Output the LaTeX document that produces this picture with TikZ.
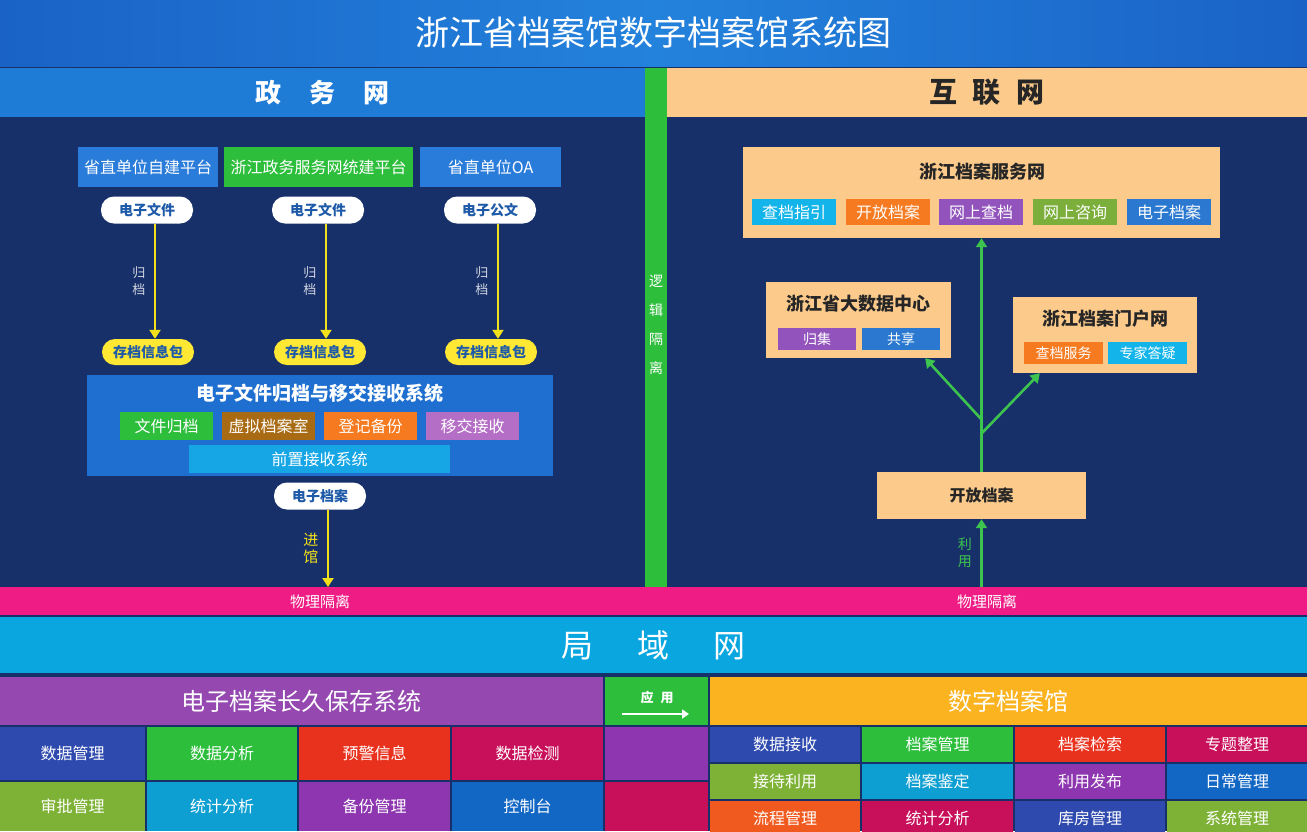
\documentclass[tikz,border=0pt]{standalone}
\usepackage{fontspec}
\setmainfont{Noto Sans CJK SC}
\usetikzlibrary{positioning,arrows.meta}

\definecolor{navy}{HTML}{18306A}
\definecolor{titleA}{HTML}{1A62C6}
\definecolor{titleB}{HTML}{2382DC}
\definecolor{govblue}{HTML}{1E7BD6}
\definecolor{platblue}{HTML}{2A7CDA}
\definecolor{sysblue}{HTML}{1E6FCF}
\definecolor{frontblue}{HTML}{16A6E6}
\definecolor{logicgreen}{HTML}{2DBE3C}
\definecolor{peach}{HTML}{FCCB8C}
\definecolor{physpink}{HTML}{EE1C84}
\definecolor{lanblue}{HTML}{0AA6E0}
\definecolor{pilltext}{HTML}{1E5AA8}
\definecolor{pillyellow}{HTML}{FFE833}
\definecolor{arrowyellow}{HTML}{F2E11A}
\definecolor{arrowgreen}{HTML}{3CC44E}
\definecolor{cblue}{HTML}{2E4AAE}
\definecolor{cgreen}{HTML}{2DBE3C}
\definecolor{cred}{HTML}{E8321E}
\definecolor{ccrimson}{HTML}{C8105A}
\definecolor{colive}{HTML}{7EB236}
\definecolor{cteal}{HTML}{0E9FD2}
\definecolor{cpurple}{HTML}{8E36B0}
\definecolor{cdblue}{HTML}{1266C4}
\definecolor{corange}{HTML}{F05A1E}
\definecolor{tagorange}{HTML}{F57A20}
\definecolor{tagcyan}{HTML}{12B4EA}
\definecolor{tagpurple}{HTML}{9254BC}
\definecolor{tagolive}{HTML}{7BAE3A}
\definecolor{tagblue}{HTML}{2A78D0}
\definecolor{tagbrown}{HTML}{A86A12}
\definecolor{taglilac}{HTML}{B46EC6}
\definecolor{storepurple}{HTML}{9448B0}
\definecolor{archorange}{HTML}{FBB320}

\newcommand{\fsz}[1]{\fontsize{#1pt}{#1pt}\selectfont}

\begin{document}
\begin{tikzpicture}[x=1pt, y=-1pt,
    block/.style={rectangle, inner sep=0pt, outer sep=0pt, text=white},
    cell/.style={block, font=\fsz{16}},
    grid/.style={block, font=\fsz{16}, minimum height=35pt},
    plat/.style={block, minimum height=40pt, font=\fsz{16}},
    pill/.style={rectangle, rounded corners=13pt, fill=white, minimum width=92pt, minimum height=27pt, inner sep=0pt, text=pilltext, font=\bfseries\fsz{14}},
    pkg/.style={pill, fill=pillyellow, minimum height=26pt},
    tag/.style={block, minimum height=26pt, minimum width=84pt, font=\fsz{16}},
    small tag/.style={block, minimum height=22pt, minimum width=78pt, font=\fsz{14}},
    peach box/.style={rectangle, fill=peach, inner sep=0pt},
    box title/.style={text=black!85, font=\bfseries\fsz{18}},
    yarrow/.style={draw=arrowyellow, line width=2.6pt, -{Triangle[width=11pt,length=9pt]}},
    garrow/.style={draw=arrowgreen, line width=2.6pt, -{Triangle[width=11pt,length=9pt]}},
    side label/.style={left, xshift=-5pt, align=center}
  ]
  \clip (0,0) rectangle (1307,831);
  \fill[navy] (0,0) rectangle (1307,831);

  % title and network headers
  \node[block, left color=titleA, right color=titleA, middle color=titleB, minimum width=1307pt, minimum height=66pt, font=\fsz{34}] (title) at (653.5,33) {浙江省档案馆数字档案馆系统图};
  \node[block, fill=govblue, minimum width=645pt, minimum height=49pt, font=\bfseries\fsz{26}] (gov) at (322.5,92.5) {政\hspace{28pt}务\hspace{28pt}网};
  \node[block, fill=peach, text=black!85, minimum width=640pt, minimum height=49pt, font=\bfseries\fsz{28}] (net) at (987,92.5) {互\hspace{16pt}联\hspace{16pt}网};
  \node[block, fill=logicgreen, minimum width=22pt, minimum height=519pt] (logic) at (656,327.5) {};
  \node[text=white, align=center, font={\fontsize{14pt}{29pt}\selectfont}] (logicT) at (656,325) {逻\\辑\\隔\\离};

  % physical isolation and LAN
  \node[block, fill=physpink, minimum width=1307pt, minimum height=28pt] (phys) at (653.5,601) {};
  \node[text=white, font=\fsz{15}] (physL) at (320,602) {物理隔离};
  \node[text=white, font=\fsz{15}] (physR) at (987,602) {物理隔离};
  \node[block, fill=lanblue, minimum width=1307pt, minimum height=56pt, font=\fsz{32}] (lan) at (653.5,645) {局\hspace{44pt}域\hspace{44pt}网};

  % government network side
  \node[plat, fill=platblue, minimum width=140pt] (plat1) at (148,167) {省直单位自建平台};
  \node[plat, fill=logicgreen, minimum width=189pt] (plat2) at (318.5,167) {浙江政务服务网统建平台};
  \node[plat, fill=platblue, minimum width=141pt] (plat3) at (490.5,167) {省直单位OA};

  \node[pill] (file1) at (147,210) {电子文件};
  \node[pill] (file2) at (318,210) {电子文件};
  \node[pill] (doc3) at (490,210) {电子公文};

  \node[pkg] (pkg1) at (148,352) {存档信息包};
  \node[pkg] (pkg2) at (320,352) {存档信息包};
  \node[pkg] (pkg3) at (491,352) {存档信息包};

  \path[every node/.style={side label, text=white!80!navy, font={\fontsize{13pt}{17pt}\selectfont}}]
    ([xshift=8pt]file1.south) edge[yarrow] node {归\\档} ([xshift=8pt]file1.south |- pkg1.north)
    ([xshift=8pt]file2.south) edge[yarrow] node {归\\档} ([xshift=8pt]file2.south |- pkg2.north)
    ([xshift=8pt]doc3.south) edge[yarrow] node {归\\档} ([xshift=8pt]doc3.south |- pkg3.north)
    ;

  \node[block, fill=sysblue, minimum width=466pt, minimum height=101pt] (sys) at (320,425.5) {};
  \node[text=white, font=\bfseries\fsz{19}] (sysT) at (320,393) {电子文件归档与移交接收系统};
  \node[tag, fill=logicgreen, minimum width=93pt, minimum height=28pt] (wjgd) at (166.5,426) {文件归档};
  \node[tag, fill=tagbrown, minimum width=93pt, minimum height=28pt] (xnda) at (268.5,426) {虚拟档案室};
  \node[tag, fill=tagorange, minimum width=93pt, minimum height=28pt] (djbf) at (370.5,426) {登记备份};
  \node[tag, fill=taglilac, minimum width=93pt, minimum height=28pt] (yjjs) at (472.5,426) {移交接收};
  \node[tag, fill=frontblue, minimum width=261pt, minimum height=28pt] (front) at (319.5,459) {前置接收系统};

  \node[pill] (dzda) at (320,496) {电子档案};
  \path ([xshift=8pt]dzda.south) edge[yarrow] node[side label, text=arrowyellow, font={\fontsize{15pt}{17pt}\selectfont}] {进\\馆} ([xshift=8pt]dzda.south |- phys.north);

  % internet side
  \node[peach box, minimum width=477pt, minimum height=91pt] (fwnet) at (981.5,192.5) {};
  \node[box title] (fwnetT) at (982,172) {浙江档案服务网};
  \node[tag, fill=tagcyan] (cdzy) at (794,212) {查档指引};
  \node[tag, fill=tagorange] (kfda) at (888,212) {开放档案};
  \node[tag, fill=tagpurple] (wscd) at (981,212) {网上查档};
  \node[tag, fill=tagolive] (wszx) at (1075,212) {网上咨询};
  \node[tag, fill=tagblue] (dzdaW) at (1169,212) {电子档案};

  \node[peach box, minimum width=185pt, minimum height=76pt] (bigdata) at (858.5,320) {};
  \node[box title] (bigdataT) at (858,304) {浙江省大数据中心};
  \node[small tag, fill=tagpurple] (guiji) at (817,339) {归集};
  \node[small tag, fill=tagblue] (gongxiang) at (901,339) {共享};

  \node[peach box, minimum width=184pt, minimum height=76pt] (portal) at (1105,335) {};
  \node[box title] (portalT) at (1105,319) {浙江档案门户网};
  \node[small tag, fill=tagorange, minimum width=79pt] (cdfw) at (1063.5,353) {查档服务};
  \node[small tag, fill=tagcyan, minimum width=79pt] (zjdy) at (1147.5,353) {专家答疑};

  \node[peach box, minimum width=209pt, minimum height=47pt, text=black!85, font=\bfseries\fsz{16}] (open) at (981.5,495.5) {开放档案};

  \coordinate (forkL) at (982,420);
  \coordinate (forkR) at (982,433);
  \path
    (open.north) edge[garrow] (fwnet.south)
    (forkL) edge[garrow] ([xshift=-26pt]bigdata.south east)
    (forkR) edge[garrow] ([xshift=27pt]portal.south west)
    (open.south |- phys.north) edge[garrow] node[side label, text=arrowgreen, font={\fontsize{14pt}{17pt}\selectfont}] {利\\用} (open.south)
    ;

  % LAN: long-term preservation and digital archive
  \node[cell, fill=storepurple, minimum width=603pt, minimum height=48pt, font=\fsz{24}] (store) at (301.5,701) {电子档案长久保存系统};
  \node[block, fill=logicgreen, minimum width=103pt, minimum height=48pt] (apply) at (656.5,701) {};
  \node[text=white, font=\bfseries\fsz{13}] (applyT) at (657,698) {应\hspace{7pt}用};
  \coordinate (applyL) at (622,714);
  \coordinate (applyR) at (689,714);
  \draw[white, line width=2.5pt, -{Triangle[width=9pt,length=7pt]}] (applyL) -- (applyR);
  \node[cell, fill=archorange, minimum width=597pt, minimum height=48pt, font=\fsz{24}] (archive) at (1008.5,701) {数字档案馆};

  \node[cell, fill=cblue, minimum width=145pt, minimum height=53pt] (sjgl) at (72.5,753.5) {数据管理};
  \node[cell, fill=cgreen, minimum width=150pt, minimum height=53pt] (sjfx) at (222,753.5) {数据分析};
  \node[cell, fill=cred, minimum width=151pt, minimum height=53pt] (yjxx) at (374.5,753.5) {预警信息};
  \node[cell, fill=ccrimson, minimum width=151pt, minimum height=53pt] (sjjc) at (527.5,753.5) {数据检测};
  \node[cell, fill=cpurple, minimum width=103pt, minimum height=53pt] (gap1) at (656.5,753.5) {};
  \node[cell, fill=colive, minimum width=145pt, minimum height=49pt] (spgl) at (72.5,806.5) {审批管理};
  \node[cell, fill=cteal, minimum width=150pt, minimum height=49pt] (tjfx) at (222,806.5) {统计分析};
  \node[cell, fill=cpurple, minimum width=151pt, minimum height=49pt] (bfgl) at (374.5,806.5) {备份管理};
  \node[cell, fill=cdblue, minimum width=151pt, minimum height=49pt] (kzt) at (527.5,806.5) {控制台};
  \node[cell, fill=ccrimson, minimum width=103pt, minimum height=49pt] (gap2) at (656.5,806.5) {};

  \node[grid, fill=cblue, minimum width=150pt] (sjjs) at (785,744.5) {数据接收};
  \node[grid, fill=cgreen, minimum width=151pt] (dagl) at (937.5,744.5) {档案管理};
  \node[grid, fill=cred, minimum width=150pt] (dajs) at (1090,744.5) {档案检索};
  \node[grid, fill=ccrimson, minimum width=140pt] (ztzl) at (1237,744.5) {专题整理};
  \node[grid, fill=colive, minimum width=150pt] (jdly) at (785,781.5) {接待利用};
  \node[grid, fill=cteal, minimum width=151pt] (dajd) at (937.5,781.5) {档案鉴定};
  \node[grid, fill=cpurple, minimum width=150pt] (lyfb) at (1090,781.5) {利用发布};
  \node[grid, fill=cdblue, minimum width=140pt] (rcgl) at (1237,781.5) {日常管理};
  \node[grid, fill=corange, minimum width=150pt] (lcgl) at (785,818.5) {流程管理};
  \node[grid, fill=ccrimson, minimum width=151pt] (tjfx2) at (937.5,818.5) {统计分析};
  \node[grid, fill=cblue, minimum width=150pt] (kfgl) at (1090,818.5) {库房管理};
  \node[grid, fill=colive, minimum width=140pt] (xtgl) at (1237,818.5) {系统管理};
\end{tikzpicture}
\end{document}
